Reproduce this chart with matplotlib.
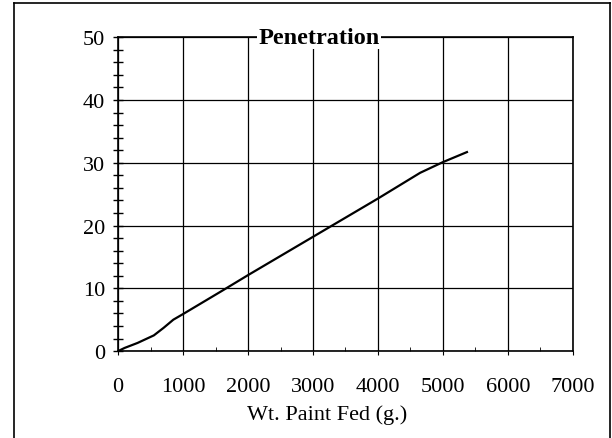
import matplotlib.pyplot as plt
from matplotlib.lines import Line2D
from matplotlib.ticker import MultipleLocator

# Data
paint_fed = [0, 100, 300, 550, 700, 850, 1000, 1600, 2000, 3000, 4000, 4650, 5000, 5370]
penetration = [0, 0.5, 1.3, 2.5, 3.7, 5.0, 5.9, 9.6, 12.1, 18.2, 24.3, 28.4, 30.1, 31.7]

plt.rcParams['font.family'] = 'Liberation Serif'

fig = plt.figure(figsize=(6.12, 4.39), dpi=100)
ax = fig.add_axes([0.193, 0.198, 0.743, 0.715])

ax.plot(paint_fed, penetration, color='black', lw=1.6, zorder=3)

ax.set_xlim(0, 7000)
ax.set_ylim(0, 50)
ax.xaxis.set_major_locator(MultipleLocator(1000))
ax.xaxis.set_minor_locator(MultipleLocator(500))
ax.yaxis.set_major_locator(MultipleLocator(10))
ax.yaxis.set_minor_locator(MultipleLocator(2))
ax.grid(True, which='major', color='black', lw=0.9)
ax.set_axisbelow(True)

ax.tick_params(axis='y', which='both', direction='inout', length=7, width=1,
               labelsize=16, pad=6)
ax.tick_params(axis='x', which='major', direction='out', length=3, labelsize=16, pad=16)
ax.tick_params(axis='x', which='minor', direction='in', length=3)
for s in ax.spines.values():
    s.set_linewidth(1.2)

ax.set_xlabel('Wt. Paint Fed (g.)', fontsize=16)
ax.xaxis.set_label_coords(0.459, -0.17)
ax.text(0.442, 1.0, 'Penetration', transform=ax.transAxes,
        ha='center', va='center', fontsize=17.5, fontweight='bold', zorder=5,
        bbox=dict(facecolor='white', edgecolor='none', pad=1))

# Outer frame (left, top, right edges)
fig.add_artist(Line2D([14 / 612, 14 / 612], [0, 1 - 4 / 439], color='black', lw=1.2))
fig.add_artist(Line2D([14 / 612, 610 / 612], [1 - 4 / 439, 1 - 4 / 439], color='black', lw=1.2))
fig.add_artist(Line2D([610 / 612, 610 / 612], [0, 1 - 4 / 439], color='black', lw=1.2))

plt.savefig('out.png', dpi=100)
